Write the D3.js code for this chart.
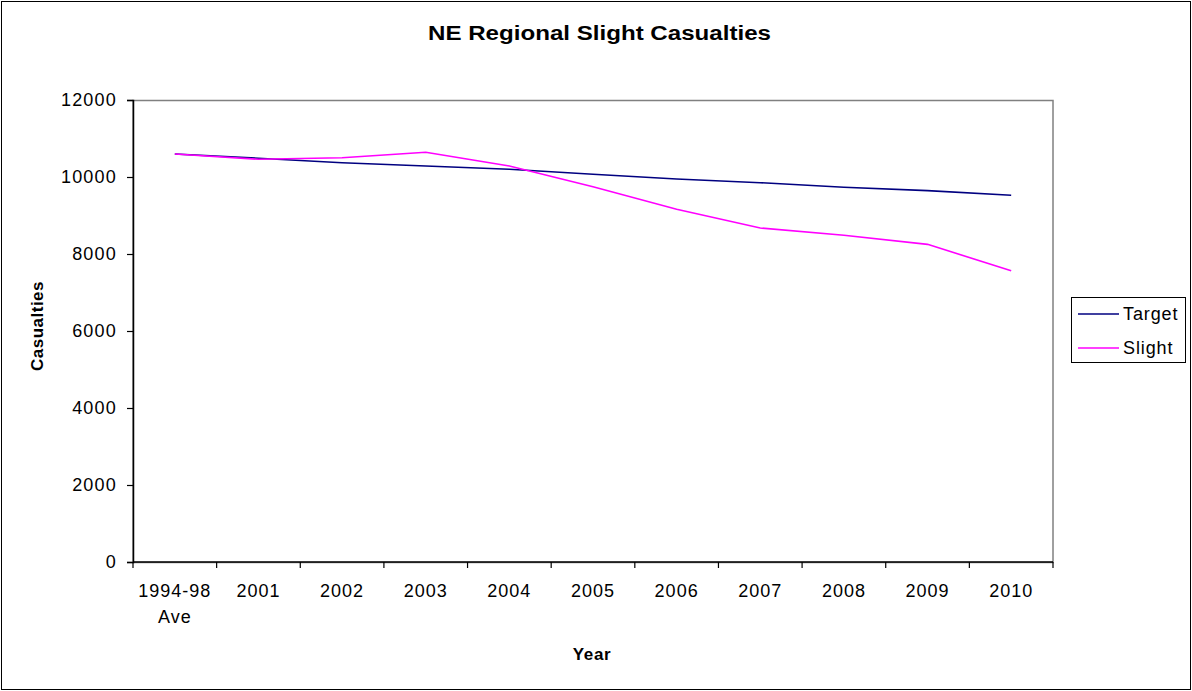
<!DOCTYPE html>
<html>
<head>
<meta charset="utf-8">
<script src="https://cdn.jsdelivr.net/npm/d3@7"></script>
<style>
  body { margin: 0; background: #fff; }
  svg { display: block; font-family: "Liberation Sans", Arial, sans-serif; }
</style>
</head>
<body>
<svg id="chart" width="1192" height="691"></svg>
<script>
const categories = ["1994-98 Ave", "2001", "2002", "2003", "2004", "2005", "2006", "2007", "2008", "2009", "2010"];
const targetValues = [10597, 10486, 10372, 10286, 10200, 10070, 9948, 9852, 9732, 9645, 9524];
const slightValues = [10597, 10460, 10501, 10641, 10286, 9748, 9160, 8675, 8485, 8251, 7566];
const yTicks = [0, 2000, 4000, 6000, 8000, 10000, 12000];
const seriesNames = ["Target", "Slight"];
const seriesColors = ["#000080", "#FF00FF"];

const svg = d3.select("#chart");
const W = 1192, H = 691;
const plot = { left: 133, top: 100, right: 1053, bottom: 562 };

// outer border
svg.append("rect").attr("x", 1.5).attr("y", 1.5).attr("width", W - 3).attr("height", H - 3)
  .attr("fill", "#fff").attr("stroke", "#000").attr("stroke-width", 1);

const x = d3.scaleBand().domain(categories).range([plot.left, plot.right]).padding(0);
const y = d3.scaleLinear().domain([0, 12000]).range([plot.bottom, plot.top]);

// plot area border (gray top/right)
svg.append("rect").attr("x", plot.left).attr("y", plot.top + 0.5)
  .attr("width", plot.right - plot.left).attr("height", plot.bottom - plot.top)
  .attr("fill", "#fff").attr("stroke", "#808080").attr("stroke-width", 1.5);

// Y axis
const yAxis = d3.axisLeft(y).tickValues(yTicks).tickSize(6).tickPadding(10).tickFormat(d3.format("d"));
const gy = svg.append("g").attr("transform", `translate(${plot.left},0)`).call(yAxis);
gy.select(".domain").attr("stroke", "#000").attr("stroke-width", 1.5);
gy.selectAll(".tick line").attr("stroke", "#000").attr("stroke-width", 1.2);
gy.selectAll(".tick text").attr("font-size", 18).attr("letter-spacing", 1.2)
  .attr("font-family", "Liberation Sans, Arial, sans-serif").attr("fill", "#000");

// X axis
const gx = svg.append("g").attr("transform", `translate(0,${plot.bottom})`);
gx.append("line").attr("x1", plot.left).attr("x2", plot.right).attr("y1", 0).attr("y2", 0)
  .attr("stroke", "#000").attr("stroke-width", 1.5);
const boundaries = categories.map(c => x(c)).concat([x(categories[categories.length - 1]) + x.bandwidth()]);
gx.selectAll("line.tk").data(boundaries).enter().append("line").attr("class", "tk")
  .attr("x1", d => d).attr("x2", d => d).attr("y1", 0).attr("y2", 6)
  .attr("stroke", "#000").attr("stroke-width", 1.2);
const xl = gx.selectAll("text.xl").data(categories).enter().append("text").attr("class", "xl")
  .attr("x", d => x(d) + x.bandwidth() / 2).attr("y", 35)
  .attr("text-anchor", "middle").attr("font-size", 18).attr("letter-spacing", 1).attr("fill", "#000");
xl.each(function(d) {
  const parts = d === "1994-98 Ave" ? ["1994-98", "Ave"] : [d];
  const t = d3.select(this);
  parts.forEach((p, i) => {
    t.append("tspan").attr("x", x(d) + x.bandwidth() / 2).attr("dy", i === 0 ? 0 : 25.5).text(p);
  });
});

// lines
const line = d3.line().x((d, i) => x(categories[i]) + x.bandwidth() / 2).y(d => y(d));
[targetValues, slightValues].forEach((vals, k) => {
  svg.append("path").datum(vals).attr("d", line).attr("fill", "none")
    .attr("stroke", seriesColors[k]).attr("stroke-width", 1.6);
});

// title
svg.append("text").attr("x", 428).attr("y", 40)
  .attr("font-size", 20).attr("font-weight", "bold")
  .attr("textLength", 343).attr("lengthAdjust", "spacingAndGlyphs")
  .text("NE Regional Slight Casualties");

// axis titles
svg.append("text").attr("x", 592).attr("y", 660).attr("text-anchor", "middle")
  .attr("font-size", 17).attr("font-weight", "bold").attr("letter-spacing", 0.7).text("Year");
svg.append("text").attr("transform", "translate(43,326) rotate(-90)").attr("text-anchor", "middle")
  .attr("font-size", 17).attr("font-weight", "bold").attr("letter-spacing", 0.5).text("Casualties");

// legend
const lg = svg.append("g");
lg.append("rect").attr("x", 1071.5).attr("y", 297.5).attr("width", 114).attr("height", 65)
  .attr("fill", "#fff").attr("stroke", "#000").attr("stroke-width", 1);
seriesNames.forEach((n, i) => {
  const yy = 314 + i * 34;
  lg.append("line").attr("x1", 1078).attr("x2", 1119).attr("y1", yy).attr("y2", yy)
    .attr("stroke", seriesColors[i]).attr("stroke-width", 1.6);
  lg.append("text").attr("x", 1123).attr("y", yy + 6).attr("font-size", 18).attr("letter-spacing", 0.9)
    .attr("fill", "#000").text(n);
});
</script>
</body>
</html>
